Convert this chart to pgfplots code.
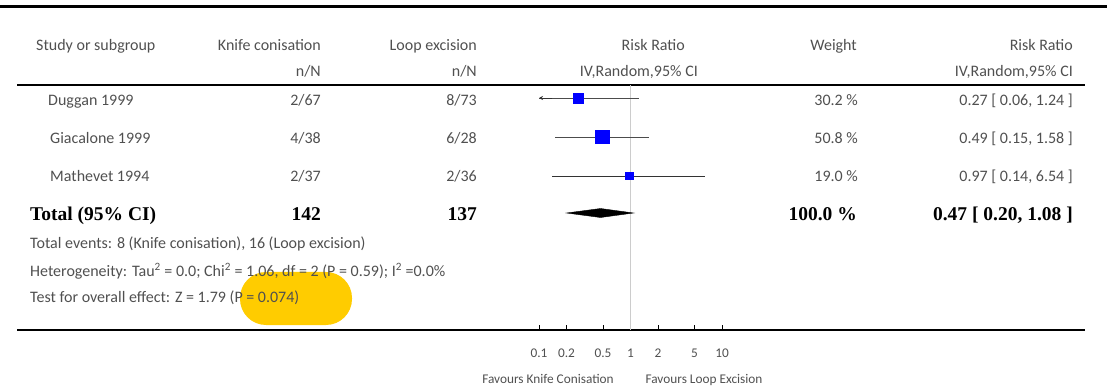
\documentclass[border=0pt]{standalone}
\usepackage{pgfplots}
\pgfplotsset{compat=1.18}
\usetikzlibrary{arrows.meta}
\usepackage{fontspec}
\setmainfont{Carlito}
\newfontfamily\tnr{Liberation Serif}
\definecolor{txt}{HTML}{505050}
\definecolor{hl}{HTML}{FFCC00}
\newcommand\reg{\fontsize{16}{19}\selectfont}
\newcommand\sm{\fontsize{16}{19}\selectfont}
\newcommand\tk{\fontsize{13.3}{15}\selectfont}
\newcommand\bb{\tnr\bfseries\fontsize{19.5}{22}\selectfont}
\begin{document}
\begin{tikzpicture}[x=1pt,y=1pt,
  base/.style={inner sep=0pt, text height=1.5ex, text depth=.25ex},
  l/.style={base, anchor=west, text=txt, font=\reg},
  r/.style={base, anchor=east, text=txt, font=\reg},
  ls/.style={base, anchor=west, text=txt, font=\sm},
  bl/.style={base, anchor=west, text=black, font=\bb},
  br/.style={base, anchor=east, text=black, font=\bb}]
\useasboundingbox (0,0) rectangle (1107,388);
% highlight
\fill[hl, rounded corners=26pt] (240,116) rectangle (352,63);
% rules
\draw[line width=3pt] (0,381) -- (1107,381);
\draw[line width=2pt] (17,303) -- (1085,303);
\draw[line width=2pt] (17,58) -- (1085,58);
\begin{axis}[at={(539pt,58pt)}, anchor=south west, scale only axis,
  width=183pt, height=245pt,
  xmode=log, xmin=0.1, xmax=10, ymin=85, ymax=330, y dir=reverse,
  axis x line*=bottom, axis y line=none, x axis line style={-},
  xtick={0.1,0.2,0.5,1,2,5,10}, xticklabels={0.1,0.2,0.5,1,2,5,10},
  minor xtick={}, tick align=inside, major tick length=5pt,
  xtick style={black, line width=0.8pt},
  xticklabel style={font=\tk, text=txt, yshift=-15pt}]
% line of no effect
\addplot[black!20, line width=1.5pt] coordinates {(1,85) (1,330)};
% confidence intervals
\addplot[black!70, line width=0.8pt] coordinates {(0.06,98) (1.24,98)};
\addplot[black!80, line width=0.8pt, -{Stealth[length=4pt,width=4pt]}] coordinates {(0.14,98) (0.1,98)};
\addplot[black!70, line width=0.8pt] coordinates {(0.15,137) (1.58,137)};
\addplot[black!80, line width=0.8pt] coordinates {(0.14,176) (6.54,176)};
% point estimates (size ~ weight)
\addplot[only marks, mark=square*, mark size=4.8pt, mark options={fill=blue, draw=blue}] coordinates {(0.27,98)};
\addplot[only marks, mark=square*, mark size=6.6pt, mark options={fill=blue, draw=blue}] coordinates {(0.49,137)};
\addplot[only marks, mark=square*, mark size=3.6pt, mark options={fill=blue, draw=blue}] coordinates {(0.97,176)};
% pooled estimate
\addplot[fill=black, draw=black] coordinates {(0.20,213) (0.47,208.5) (1.08,213) (0.47,217.5)} -- cycle;
\end{axis}
% header
\node[l] at (36,340) {Study or subgroup};
\node[r] at (321,340) {Knife conisation};
\node[r] at (477,340) {Loop excision};
\node[r] at (685,340) {Risk Ratio};
\node[r] at (857,340) {Weight};
\node[r] at (1073,340) {Risk Ratio};
\node[r] at (321,314) {n/N};
\node[r] at (477,314) {n/N};
\node[r] at (698,314) {IV,Random,95\% CI};
\node[r] at (1073,314) {IV,Random,95\% CI};
% studies
\node[l] at (48,285) {Duggan 1999};
\node[r] at (321,285) {2/67};
\node[r] at (477,285) {8/73};
\node[r] at (858,285) {30.2 \%};
\node[r] at (1073,285) {0.27 [ 0.06, 1.24 ]};
\node[l] at (50,247) {Giacalone 1999};
\node[r] at (321,247) {4/38};
\node[r] at (477,247) {6/28};
\node[r] at (858,247) {50.8 \%};
\node[r] at (1073,247) {0.49 [ 0.15, 1.58 ]};
\node[l] at (50,209) {Mathevet 1994};
\node[r] at (321,209) {2/37};
\node[r] at (477,209) {2/36};
\node[r] at (858,209) {19.0 \%};
\node[r] at (1073,209) {0.97 [ 0.14, 6.54 ]};
% total
\node[bl] at (30,170) {Total (95\% CI)};
\node[br] at (321,170) {142};
\node[br] at (477,170) {137};
\node[br] at (857,170) {100.0 \%};
\node[br] at (1073,170) {0.47 [ 0.20, 1.08 ]};
% footnotes
\node[ls] at (30,142) {Total events: 8 (Knife conisation), 16 (Loop excision)};
\node[ls] at (30,114) {Heterogeneity: Tau\textsuperscript{2} = 0.0; Chi\textsuperscript{2} = 1.06, df = 2 (P = 0.59); I\textsuperscript{2} =0.0\%};
\node[ls] at (30,88) {Test for overall effect: Z = 1.79 (P = 0.074)};
% favours
\node[base, text=txt, font=\tk] at (548,7) {Favours Knife Conisation};
\node[base, text=txt, font=\tk] at (704,7) {Favours Loop Excision};
\end{tikzpicture}
\end{document}
